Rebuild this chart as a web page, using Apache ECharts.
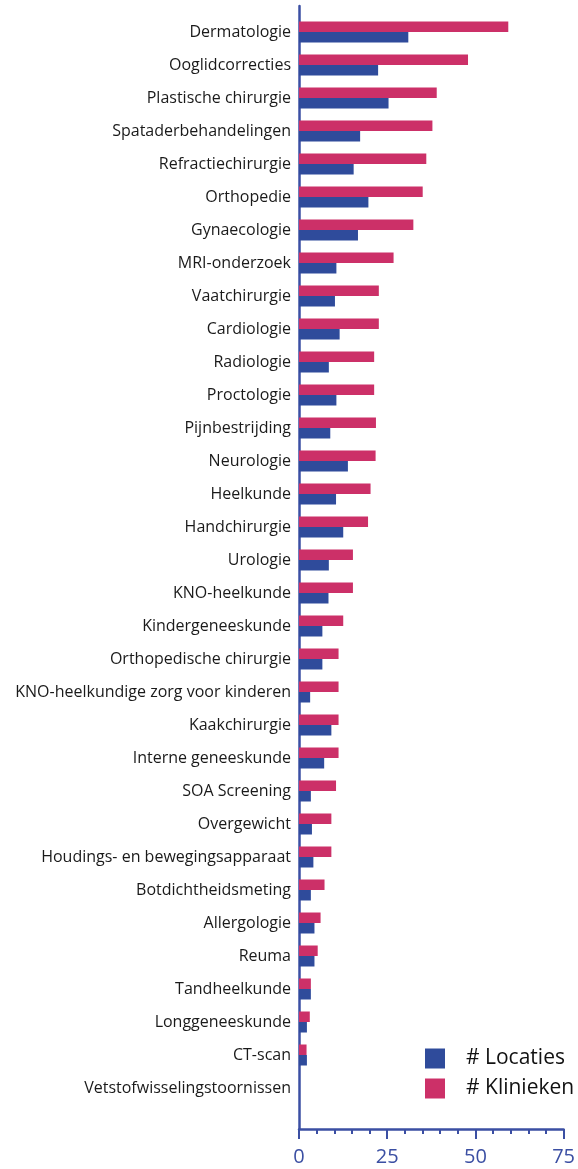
<!DOCTYPE html>
<html>
<head>
<meta charset="utf-8">
<script src="https://cdn.jsdelivr.net/npm/echarts@6/dist/echarts.min.js"></script>
<style>
html,body{margin:0;padding:0;background:#fff;}
#chart{width:578px;height:1169px;}
</style>
</head>
<body>
<div id="chart"></div>
<script>
const categories = ['Dermatologie','Ooglidcorrecties','Plastische chirurgie','Spataderbehandelingen','Refractiechirurgie','Orthopedie','Gynaecologie','MRI-onderzoek','Vaatchirurgie','Cardiologie','Radiologie','Proctologie','Pijnbestrijding','Neurologie','Heelkunde','Handchirurgie','Urologie','KNO-heelkunde','Kindergeneeskunde','Orthopedische chirurgie','KNO-heelkundige zorg voor kinderen','Kaakchirurgie','Interne geneeskunde','SOA Screening','Overgewicht','Houdings- en bewegingsapparaat','Botdichtheidsmeting','Allergologie','Reuma','Tandheelkunde','Longgeneeskunde','CT-scan','Vetstofwisselingstoornissen'];
const klinieken = [58.2,47.0,38.3,37.1,35.4,34.4,31.8,26.3,22.2,22.2,20.9,20.9,21.4,21.3,19.9,19.2,15.0,15.0,12.3,11.0,11.0,11.0,11.0,10.3,9.0,9.0,7.1,6.0,5.2,3.3,3.0,2.1,0];
const locaties = [30.4,22.0,24.9,17.0,15.2,19.3,16.4,10.4,10.0,11.3,8.3,10.4,8.7,13.6,10.3,12.3,8.3,8.2,6.5,6.5,3.1,9.0,7.0,3.3,3.6,4.0,3.3,4.3,4.3,3.3,2.2,2.2,0];
const xTicks = {min:0, max:75, interval:25};

const axisBlue = '#3B4FA3';
const barBlue = '#2F4B9B';
const barPink = '#CC3068';
const font = 'Open Sans';

const chart = echarts.init(document.getElementById('chart'), null, {renderer:'canvas'});
chart.setOption({
  animation:false,
  textStyle:{fontFamily:font},
  legend:{
    orient:'vertical', left:425, top:1048, padding:0,
    itemWidth:20, itemHeight:20, itemGap:9, icon:'rect',
    data:['# Locaties','# Klinieken'],
    textStyle:{fontFamily:font, fontSize:21, color:'#111', padding:[0,0,0,16]}
  },
  grid:[
    {left:299, right:9.3, top:15.5, height:1089},
    {left:299, right:9.3, top:6, height:1123}
  ],
  xAxis:[
    {gridIndex:0, type:'value', min:xTicks.min, max:xTicks.max, interval:xTicks.interval, show:false, splitLine:{show:false}},
    {gridIndex:1, type:'value', min:xTicks.min, max:xTicks.max, interval:xTicks.interval, position:'bottom',
     axisLine:{show:true, onZero:false, lineStyle:{color:axisBlue, width:2.5}},
     axisTick:{show:true, length:10, lineStyle:{color:axisBlue, width:2}},
     minorTick:{show:true, splitNumber:5, length:5, lineStyle:{color:axisBlue, width:2}},
     axisLabel:{color:axisBlue, fontSize:20, fontFamily:font, margin:18},
     splitLine:{show:false}}
  ],
  yAxis:[
    {gridIndex:0, type:'category', data:categories, inverse:true,
     axisLine:{show:false}, axisTick:{show:false},
     axisLabel:{color:'#1a1a1a', fontSize:16, fontFamily:font, margin:8, interval:0}},
    {gridIndex:1, type:'value', min:0, max:1, position:'left',
     axisLine:{show:true, onZero:false, lineStyle:{color:axisBlue, width:2.5}},
     axisTick:{show:false}, axisLabel:{show:false}, splitLine:{show:false}}
  ],
  series:[
    {name:'# Klinieken', type:'bar', xAxisIndex:0, yAxisIndex:0, data:klinieken,
     barWidth:10.5, barGap:'0%',
     itemStyle:{color:barPink}},
    {name:'# Locaties', type:'bar', xAxisIndex:0, yAxisIndex:0, data:locaties,
     barWidth:10.5, barGap:'0%',
     itemStyle:{color:barBlue}}
  ]
});
</script>
</body>
</html>
